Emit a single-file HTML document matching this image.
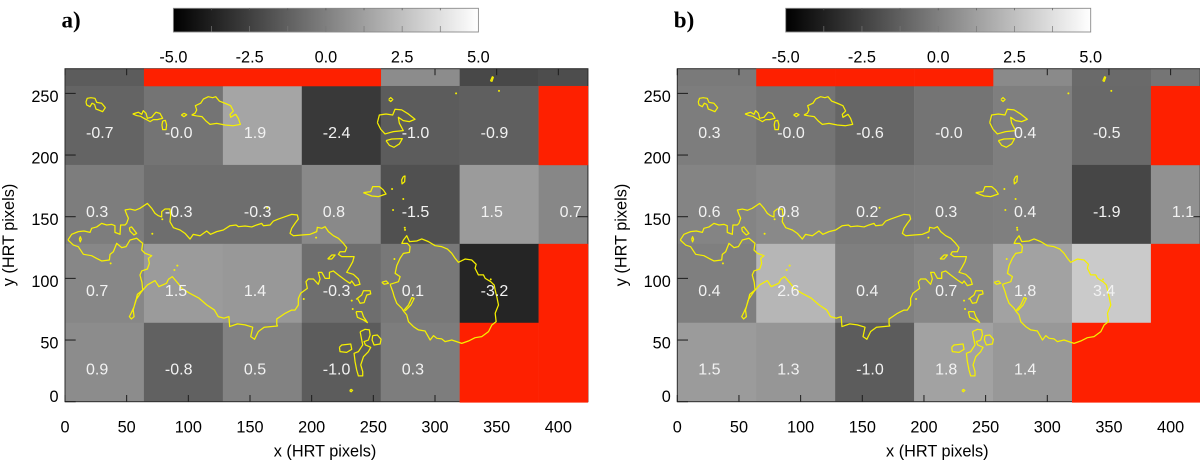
<!DOCTYPE html>
<html lang="en">
<head>
<meta charset="utf-8">
<title>HRT pixel maps</title>
<style>
html,body{margin:0;padding:0;background:#fff;width:1200px;height:461px;overflow:hidden}
svg{display:block;filter:blur(0.35px)}
text{font-family:"Liberation Sans",sans-serif}
</style>
</head>
<body>
<svg id="chart" xmlns="http://www.w3.org/2000/svg" width="1200" height="461" viewBox="0 0 1200 461">
<defs>
<linearGradient id="cbar-gradient"><stop offset="0" stop-color="#000"/><stop offset="1" stop-color="#fff"/></linearGradient>
</defs>
</svg>
<script>
// Data: grid cells are listed from the top row down; null = masked (red)
const rowBottoms = [256, 192, 128, 64, 0];
const colStarts = [0, 64, 128, 192, 256, 320, 384];
const panelAValues = [
  [-1.0, null, null, null, 0.9, -1.8, -1.6],
  [-0.7, -0.04, 1.9, -2.4, -1.0, -0.9, null],
  [0.3, -0.3, -0.3, 0.8, -1.5, 1.5, 0.7],
  [0.7, 1.5, 1.4, -0.3, 0.1, -3.2, null],
  [0.9, -0.8, 0.5, -1.0, 0.3, null, null]
];
const panelBValues = [
  [0.2, null, null, null, 0.85, -0.45, 0.0],
  [0.3, -0.04, -0.6, -0.04, 0.4, -0.5, null],
  [0.6, 0.8, 0.2, 0.3, 0.4, -1.9, 1.1],
  [0.4, 2.6, 0.4, 0.7, 1.8, 3.4, null],
  [1.5, 1.3, -1.0, 1.8, 1.4, null, null]
];
const xTicks = [0, 50, 100, 150, 200, 250, 300, 350, 400];
const yTicks = [0, 50, 100, 150, 200, 250];
const colorbarTicks = [-3.75, -2.5, -1.25, 0, 1.25, 2.5, 3.75];
const colorbarLabels = [-5, -2.5, 0, 2.5, 5];

// Contours in HRT pixels (same for both panels)
const contourMain = [[2.4,131.1],[5.4,135.7],[10.8,137.9],[15.4,138.4],[20.3,137.3],[21.6,140.6],[25.7,141.7],[29.7,144.6],[33.8,143.3],[37.8,143.8],[40.5,142.7],[40.5,137.3],[44.6,135.7],[45.1,143.3],[48.7,143.3],[50,144.6],[51.4,148.7],[50,151.9],[48.7,155.4],[52.7,156.2],[56.8,155.2],[60.8,156.8],[66.8,160.8],[70.3,156.8],[73,152.7],[75.7,150.8],[78.4,149.8],[78.4,154.1],[81,156.2],[85.1,156.2],[85.7,151.4],[85.1,146],[87.9,141.1],[93.3,139.2],[97.3,136.5],[101.4,131.9],[104,135.7],[109.5,134.6],[114.9,138.4],[118.1,135.7],[123,137.9],[128.4,139.2],[133.8,142.7],[138.7,143.3],[140.6,141.9],[146,142.5],[151.4,141.7],[155.4,143.3],[159.5,144.6],[160.8,142.7],[166.3,143.3],[169,146.5],[173,148.1],[178.4,150],[183.8,151.9],[188.4,151.4],[189.2,148.1],[186.5,144.6],[183.8,140.6],[182.5,136.5],[185.2,134.6],[191.9,135.2],[198.7,135.7],[204.1,137.9],[204.6,141.4],[208.2,140.6],[210.9,141.9],[213.6,137.9],[217.6,134.6],[221.7,132.5],[225.7,128.4],[228.4,124.9],[227.1,121.6],[223,121.6],[221.7,119.5],[224.4,117.6],[229.8,117.6],[234.4,117.6],[233.3,113.5],[231.1,109.5],[228.4,104.9],[233.8,103.3],[237.9,99.5],[239.2,95.2],[235.2,94.1],[232.5,97.9],[231.1,96],[227.1,98.7],[221.7,102.7],[217.6,106],[214.4,104.9],[214.4,100],[210.9,100],[208.2,104.9],[205.4,104.9],[206.8,99.5],[205.4,95.2],[201.4,99.5],[197.3,99.5],[195.4,97.3],[196.5,91.9],[191.1,87.9],[189.2,83.8],[189.2,78.4],[186.5,74.3],[183.8,74.3],[181.1,73],[178.4,71.6],[174.4,68.9],[171.7,67.1],[171.7,62.7],[172.3,61.4],[161.5,60.4],[156.8,56.9],[153.7,50.6],[150.6,52.8],[152.2,60.4],[146,62.3],[139.8,63.1],[133.5,60.9],[132.9,69],[128.9,67.7],[124.2,69],[121.1,74.4],[114.9,78.5],[108.7,83.9],[101,88],[94.7,92],[91.6,96],[87,101.4],[83.9,99.3],[82.3,96],[76.1,93.3],[73,98.2],[66.8,94.7],[62.1,89.3],[57.5,82.5],[55.3,74.4],[56,69],[53.8,67.1],[52.2,69],[54,72.5],[56,77],[57.6,82.2],[58.7,87],[63,90.6],[62.4,96.8],[60.8,102.7],[62.2,106],[66.8,107.6],[68.4,112.2],[67.6,116.2],[70.3,118.4],[64.9,120.3],[62.2,123],[63,128.4],[58.1,132.5],[52.7,131.1],[49.5,125.7],[46,124.9],[41.9,128.4],[39.2,121.6],[36.5,119.5],[36,114.9],[29.7,114.1],[25.7,116.2],[21.6,118.4],[14.9,119.5],[10.8,125.7],[6.8,127],[2.4,131.1]];
const contourRing = [[263.6,95.2],[265.8,89.2],[266.9,85.2],[269,79.8],[273.1,75.7],[274.4,73.6],[277.1,70.3],[278.5,64.9],[282.5,60.9],[286.6,58.2],[292,57.3],[296.1,50],[298.8,53.6],[301.5,51.4],[305.5,50.9],[308.2,48.7],[313.6,50],[319,48.2],[321.7,47.3],[327.1,49.2],[332.5,51.9],[337.9,52.8],[343.4,56.8],[346.1,62.2],[349.6,64.9],[348.8,71.7],[351.5,78.4],[350.1,85.2],[348.8,90.6],[348,94.6],[345.2,97.3],[340.7,100],[339.3,102.8],[335.2,102.8],[332.5,108.2],[333.4,111.4],[329.8,114.9],[324.4,115.7],[319,113],[316.3,116.3],[313.6,120.3],[310.1,123.8],[305.5,125.7],[300.1,126.5],[294.7,129.8],[289.3,132],[285.2,130.3],[279.3,129.8],[277.1,134.6],[274.4,131.1],[273.1,128.4],[277.7,128.4],[279.8,125.7],[279.3,121.1],[274.4,120.3],[271.7,116.3],[269,110.3],[267.7,104.1],[271.7,101.4],[270.4,97.3],[263.6,95.2]];
const contourIslandOne = [[17,243],[18,246],[21,246.5],[24.3,246],[25.7,242.7],[29.7,242],[32.7,238.4],[30.5,235.2],[27.8,236.3],[25.1,237.3],[24,241],[21.9,242],[20.3,239.2],[17.6,240.6],[17,243]];
const contourIslandTwo = [[54.9,233.3],[59.5,234.7],[62.2,233],[63.5,236],[65.7,233.8],[66.8,229.8],[70.3,230.6],[72.2,233],[73.8,234.7],[77,233.8],[79.2,229.8],[74.9,228.7],[71.6,228.7],[69,227.1],[66.2,228.7],[64,229.8],[61.3,231.4],[58.1,232],[54.9,233.3]];
const contourIslandTwoB = [[79.2,227.6],[81.4,228.1],[82.4,224.4],[81.9,220.6],[79.2,220.6],[78.6,224.4],[79.2,227.6]];
const contourSmallEllipse = [[94.3,232.5],[96.5,233.8],[98.7,232.7],[96.5,231.1],[94.3,232.5]];
const contourBigIsland = [[102.7,232.5],[105.4,233.8],[106.8,236.5],[105.7,240],[110,242],[112.2,245.4],[116.2,247.3],[119.7,246.5],[122.2,247.3],[125.1,243.8],[129.7,242],[134.3,240],[136.5,235.7],[133.8,233],[134.3,230.6],[138.4,233],[140.5,229.8],[142.2,224.9],[136.5,223.8],[129.7,224.4],[123,225.7],[117.6,224.9],[114.3,227.6],[111.1,231.1],[106.8,231.7],[102.7,232.5]];
const contourIslandA = [[253.3,226.3],[254.9,232.5],[260.3,233.3],[265.7,232.5],[267.6,237.1],[273,236.6],[278.4,233.3],[283.8,229],[279.2,227.1],[274.3,227.9],[270.3,230.6],[271.1,225.8],[274.3,219.8],[266.2,219],[259.5,217.1],[256,220.9],[253.3,226.3]];
const contourIslandB = [[260.3,211.7],[264.9,213],[273.5,213.3],[271.1,209],[266.8,206.3],[263,207.9],[260.3,211.7]];
const contourIslandSmall = [[274.3,182.5],[275.7,183],[275.4,178.4],[273.3,176.6],[273,179.8],[274.3,182.5]];
const contourIslandC = [[241.9,169.5],[247.9,170.3],[249.5,174.4],[254.9,174.4],[258.1,171.7],[260.3,168.4],[254.1,166.3],[248.7,166.8],[241.9,169.5]];
const contourCircleTop = [[262.4,245],[264.1,246.6],[265.8,245],[264.1,243.4],[262.4,245]];
const contourBlobTop = [[345,260],[346.5,263.5],[347.3,263],[346.2,259.8],[345,260]];
const contourTriangle = [[52.2,141.1],[54,141.7],[58.1,136.5],[55.9,135.2],[52.7,138.4],[52.2,141.1]];
const contourInnerOval = [[11.6,131.7],[12.4,133.8],[13.2,131.7],[12.4,129.6],[11.6,131.7]];
const contourSliver = [[213,115.7],[216.3,118.9],[219,118.9],[216.3,115.7],[213,115.7]];
const contourCluster = [[236,83],[240.6,86.5],[242,90],[247.4,90],[247.9,87.4],[244.7,86.5],[242.5,80.3],[239.3,79.8],[237.1,83.8],[236,83]];
const contourShard = [[236,73],[240.6,73],[242,69],[245.2,64.1],[242,66.3],[237.1,68.4],[236,73]];
const contourIslandD = [[222.5,44.1],[224.4,46],[231.7,46.8],[232.5,42.5],[228.4,40],[223,40.6],[222.5,44.1]];
const contourLong = [[239.3,56.8],[243.3,58.7],[246.8,58.2],[247.4,54.1],[246,50],[242.5,48.7],[243.6,46],[247.9,44.1],[246,40.6],[242,36.5],[239.8,29.8],[241.4,24.4],[241.4,20.9],[237.9,20.9],[236.5,25.7],[235.2,32.5],[234.4,39.2],[237.9,40.6],[241.4,46],[240.6,50],[239.3,56.8]];
const contourIslandE = [[249.5,53.6],[253.3,54.1],[256.3,50.6],[255.5,46.8],[250.6,46],[249,50],[249.5,53.6]];
const contourRingLoop = [[256.9,96.8],[260.4,97.9],[262.3,96],[258.8,95.2],[256.9,96.8]];
const contourRingBranch = [[274.4,73.6],[278.5,78.4],[281.2,84.4],[283.1,83.8],[280.4,78.4],[275.8,73.6]];
const contourBottomOval = [[230.8,9],[232,10],[233.2,9.2],[232,8],[230.8,9]];
const contourDots = [[317.1,250],[351.9,252],[265.2,172.5],[274.3,164.4],[266,155.4],[275.7,139.3],[275.5,141],[203.6,133],[164,157.3],[193.6,83.3],[78.9,147.9],[70.8,136.2],[91.1,110.3],[88.7,106.8],[37,112.2],[232.5,82],[233.3,75.2],[267.1,115.7],[345.2,99.2]];
const contourLines = [contourMain, contourRing, contourIslandOne, contourIslandTwo, contourIslandTwoB, contourSmallEllipse, contourBigIsland, contourIslandA, contourIslandB, contourIslandSmall, contourIslandC, contourCircleTop, contourBlobTop, contourTriangle, contourInnerOval, contourSliver, contourCluster, contourShard, contourIslandD, contourLong, contourIslandE, contourRingLoop, contourRingBranch, contourBottomOval];

const svg = document.getElementById('chart');
const NS = 'http://www.w3.org/2000/svg';
const frameLeft = 65, frameBottom = 401.7, pxPerUnit = 1.2333;
const xMax = 424, yMax = 270;
const cellW = 64, cellH = 64;
const cbLeft = 173.4, cbRight = 478.4, cbTop = 8.3, cbBottom = 32;
const xs = v => frameLeft + v * pxPerUnit;
const ys = v => frameBottom - v * pxPerUnit;
const cbScale = v => cbLeft + (v + 5) / 10 * (cbRight - cbLeft);
const grayOf = v => { const g = Math.round(Math.max(0, Math.min(255, 117 + 25 * v))); return 'rgb(' + g + ',' + g + ',' + g + ')'; };

function mk(parent, tag, attrs, text) {
  const el = document.createElementNS(NS, tag);
  for (const k in attrs) el.setAttribute(k, attrs[k]);
  if (text !== undefined) el.textContent = text;
  parent.appendChild(el);
  return el;
}
const FS = 16.3;

function drawPanel(name, letter, values, offset) {
  const g = mk(svg, 'g', { transform: 'translate(' + offset + ',0)' });
  
  

  const title = mk(g, 'text', { x: 61.5, y: 27.5, 'font-size': 23, 'font-weight': 'bold', fill: '#000', style: 'font-family:"Liberation Serif",serif' }, letter);
  
  

  // colorbar
  const bar = mk(g, 'rect', { x: cbLeft, y: cbTop, width: cbRight - cbLeft, height: cbBottom - cbTop, fill: 'url(#cbar-gradient)', stroke: '#8a8a8a', 'stroke-width': 0.9 });
  
  
  colorbarTicks.forEach(t => {
    const top = mk(g, 'line', { x1: cbScale(t), x2: cbScale(t), y1: cbTop, y2: cbTop + 2, stroke: '#555', 'stroke-width': 0.7 });
    
    
    const bot = mk(g, 'line', { x1: cbScale(t), x2: cbScale(t), y1: cbBottom - 6, y2: cbBottom, stroke: '#777', 'stroke-width': 0.7 });
    
    
  });
  colorbarLabels.forEach(t => {
    const lab = mk(g, 'text', { x: cbScale(t), y: 62.5, 'font-size': FS, 'text-anchor': 'middle', fill: '#000' }, t.toFixed(1));
    
    
  });

  const cellRect = (c, bottom, fill) => {
    const right = Math.min(c + cellW, xMax), top = Math.min(bottom + cellH, yMax);
    return mk(g, 'rect', { x: xs(c), y: ys(top), width: xs(right) - xs(c) + 0.3, height: ys(bottom) - ys(top) + 0.3, fill: fill });
  };

  // gray cells
  values.forEach((row, r) => row.forEach((v, c) => {
    if (v === null) return;
    const cell = cellRect(colStarts[c], rowBottoms[r], grayOf(v));
    
    
  }));

  // frame and ticks
  const frame = mk(g, 'rect', { x: xs(0), y: ys(yMax), width: xs(xMax) - xs(0), height: ys(0) - ys(yMax), fill: 'none', stroke: '#2c2c2c', 'stroke-width': 1 });
  
  
  xTicks.forEach(t => {
    const bot = mk(g, 'line', { x1: xs(t), x2: xs(t), y1: ys(0), y2: ys(0) - 6.7, stroke: '#1c1c1c', 'stroke-width': 1 });
    
    
    const top = mk(g, 'line', { x1: xs(t), x2: xs(t), y1: ys(yMax), y2: ys(yMax) + 6.5, stroke: '#1c1c1c', 'stroke-width': 1 });
    
    
    const lab = mk(g, 'text', { x: xs(t), y: 432.5, 'font-size': FS, 'text-anchor': 'middle', fill: '#000' }, String(t));
    
    
  });
  yTicks.forEach(t => {
    const left = mk(g, 'line', { x1: xs(0), x2: xs(0) + 10.7, y1: ys(t), y2: ys(t), stroke: '#1c1c1c', 'stroke-width': 1 });
    
    
    const right = mk(g, 'line', { x1: xs(xMax), x2: xs(xMax) - 10.7, y1: ys(t), y2: ys(t), stroke: '#1c1c1c', 'stroke-width': 1 });
    
    
    const lab = mk(g, 'text', { x: 58.5, y: Math.min(ys(t) + 8.5, 401.8), 'font-size': FS, 'text-anchor': 'end', fill: '#000' }, String(t));
    
    
  });

  // masked cells
  values.forEach((row, r) => row.forEach((v, c) => {
    if (v !== null) return;
    const cell = cellRect(colStarts[c], rowBottoms[r], '#fe2000');
    
    
  }));
  // masked cells bleed slightly past the frame
  values.forEach((row, r) => row.forEach((v, c) => {
    if (v !== null || rowBottoms[r] !== 0) return;
    const edge = mk(g, 'rect', { x: xs(colStarts[c]), y: ys(0), width: xs(Math.min(colStarts[c] + cellW, xMax)) - xs(colStarts[c]), height: 0.9, fill: '#fe2000' });
    
    
  }));

  // contours
  contourLines.forEach(pts => {
    const d = pts.map(p => xs(p[0]).toFixed(2) + ',' + ys(p[1]).toFixed(2)).join(' ');
    const line = mk(g, 'polyline', { points: d, fill: 'none', stroke: '#f6f000', 'stroke-width': 1.25, 'stroke-linejoin': 'round' });
    
    
  });
  contourDots.forEach(p => {
    const dot = mk(g, 'circle', { cx: xs(p[0]), cy: ys(p[1]), r: 1, fill: '#f6f000' });
    
    
  });

  // printed values
  values.forEach((row, r) => row.forEach((v, c) => {
    if (v === null || rowBottoms[r] >= 256) return;
    const lab = mk(g, 'text', { x: xs(colStarts[c]) + 21, y: ys(rowBottoms[r]) - 27, 'font-size': 16, fill: '#f2f2f2' }, v.toFixed(1));
    
    
  }));

  // axis titles
  const xt = mk(g, 'text', { x: 325, y: 456.5, 'font-size': FS, 'text-anchor': 'middle', fill: '#000' }, 'x (HRT pixels)');
  
  
  const yt = mk(g, 'text', { x: 0, y: 0, transform: 'translate(14,235) rotate(-90)', 'font-size': FS, 'text-anchor': 'middle', fill: '#000' }, 'y (HRT pixels)');
  
  
}

drawPanel('panel-a', 'a)', panelAValues, 0);
drawPanel('panel-b', 'b)', panelBValues, 612.3);
</script>
</body>
</html>
